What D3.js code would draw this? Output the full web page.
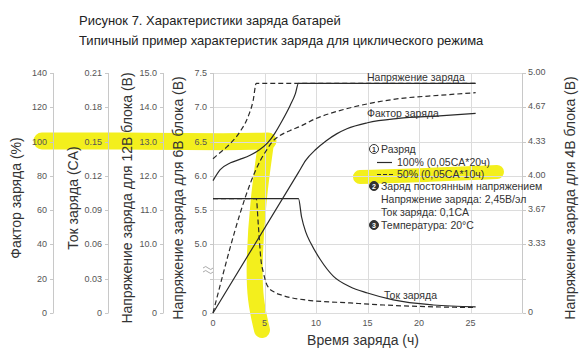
<!DOCTYPE html>
<html>
<head>
<meta charset="utf-8">
<script src="https://cdn.jsdelivr.net/npm/d3@7"></script>
<style>
  body { margin: 0; background: #fff; }
  svg { display: block; font-family: 'Liberation Sans', Arial, sans-serif; }
  .tick-label { font-size: 9px; fill: #555; }
  .axis-title { font-size: 14px; fill: #333; }
  .note { font-size: 10.5px; fill: #333; }
</style>
</head>
<body>
<script>
// chart size (matches the window)
const WIDTH = 583;
const HEIGHT = 352;

// plot area
const PLOT_LEFT = 213;
const PLOT_RIGHT = 522;
const PLOT_TOP = 73;
const PLOT_BOT = 313;

/*
 * Data.
 */

// x axis (hours)
const hourTicks = [0, 5, 10, 15, 20, 25];

// tick labels of the five y axes, one per grid level (0..7)
const factorTicks = ['0', '20', '40', '60', '80', '100', '120', '140'];
const currentTicks = ['0', '0.03', '0.06', '0.09', '0.12', '0.15', '0.18', '0.21'];
const volt12Ticks = ['0', '', '10.0', '11.0', '12.0', '13.0', '14.0', '15.0'];
const volt6Ticks = ['0', '', '5.0', '5.5', '6.0', '6.5', '7.0', '7.5'];
const volt4Ticks = ['0', '', '3.33', '3.67', '4.00', '4.33', '4.67', '5.00'];

// charge voltage, 6V block (hours, volts)
const voltFull = [[0, 5.93], [0.7, 6.09], [1.7, 6.19], [2.6, 6.24], [3.6, 6.3],
  [4.4, 6.37], [5.3, 6.48], [6, 6.62], [6.7, 6.8], [7.5, 7.03], [8, 7.2],
  [8.3, 7.35], [25.5, 7.35]];
const voltHalf = [[0, 6.25], [0.7, 6.34], [1.4, 6.43], [2.6, 6.64], [3.4, 6.86],
  [3.9, 7.1], [4.2, 7.35], [25.5, 7.35]];

// charge factor (hours, %)
const factorFull = [[0, 0], [8.3, 82], [9, 89], [10, 95.5], [11, 100.5],
  [12, 104.5], [13, 107.5], [15, 111], [18, 113.5], [22, 115], [25.5, 116.5]];
const factorHalf = [[0, 0], [4.2, 84], [4.6, 89], [5.2, 95], [5.7, 99.5],
  [6.5, 103.5], [7.5, 106.5], [8.5, 109], [10, 113.5], [11.7, 117], [15, 122],
  [18, 125], [22, 127], [25.5, 128.5]];

// charge current (hours, CA)
const currentFull = [[0, 0.1], [8.3, 0.1], [8.6, 0.084], [9, 0.071], [9.5, 0.061],
  [10.4, 0.047], [11.7, 0.032], [13.3, 0.023], [15, 0.0175], [17.5, 0.0115],
  [21.4, 0.007], [25.5, 0.0053]];
const currentHalf = [[0, 0.1], [4.2, 0.1], [4.4, 0.077], [4.65, 0.047], [4.9, 0.035],
  [5.3, 0.0235], [6, 0.018], [6.7, 0.0155], [9, 0.0114], [13.3, 0.0088],
  [16.6, 0.007], [21.4, 0.0054], [25.5, 0.0048]];

/*
 * Scales.
 */

const xScale = d3.scaleLinear().domain([0, 30]).range([PLOT_LEFT, PLOT_RIGHT]);
const levelScale = d3.scaleLinear().domain([0, 7]).range([PLOT_BOT, PLOT_TOP]);
const factorScale = d3.scaleLinear().domain([0, 140]).range([PLOT_BOT, PLOT_TOP]);
const currentScale = d3.scaleLinear().domain([0, 0.21]).range([PLOT_BOT, PLOT_TOP]);
// the 6V axis is broken below 5.0 V
const volt6Scale = d3.scaleLinear().domain([5, 7.5]).range([levelScale(2), levelScale(7)]);

const levels = d3.range(8);

const svg = d3.select('body')
  .append('svg')
    .attr('width', WIDTH)
    .attr('height', HEIGHT);

svg.append('rect')
    .attr('width', WIDTH)
    .attr('height', HEIGHT)
    .attr('fill', '#fff');

// title
svg.append('text')
    .attr('x', 79).attr('y', 25)
    .attr('font-size', 13).attr('fill', '#222')
    .text('Рисунок 7. Характеристики заряда батарей');
svg.append('text')
    .attr('x', 79).attr('y', 45)
    .attr('font-size', 13).attr('fill', '#222')
    .text('Типичный пример характеристик заряда для циклического режима');

/*
 * Yellow marker strokes (drawn underneath everything else).
 */

const marker = svg.append('g')
    .attr('fill', 'none')
    .attr('stroke', '#f3ef1d')
    .attr('stroke-linecap', 'round')
    .attr('stroke-linejoin', 'round');

const markerLine = d3.line().curve(d3.curveBasis);

marker.append('path')
    .attr('stroke-width', 17)
    .attr('d', markerLine([[42, 141], [150, 141], [230, 142], [268, 141]]));
marker.append('path')
    .attr('stroke-width', 16)
    .attr('d', markerLine([[266, 143], [258, 200], [254, 262], [255, 300], [262, 330]]));
marker.append('path')
    .attr('stroke-width', 14)
    .attr('d', markerLine([[360, 177], [430, 175], [497, 172]]));

/*
 * Grid.
 */

const grid = svg.append('g')
    .attr('stroke', '#dcdcdc')
    .attr('stroke-width', 1);

grid.selectAll('.hgrid')
  .data(levels)
  .enter()
  .append('line')
    .attr('x1', PLOT_LEFT).attr('x2', PLOT_RIGHT)
    .attr('y1', d => Math.round(levelScale(d)) + 0.5)
    .attr('y2', d => Math.round(levelScale(d)) + 0.5);

grid.selectAll('.vgrid')
  .data([5, 10, 15, 20, 25, 30])
  .enter()
  .append('line')
    .attr('x1', d => Math.round(xScale(d)) + 0.5)
    .attr('x2', d => Math.round(xScale(d)) + 0.5)
    .attr('y1', PLOT_TOP).attr('y2', PLOT_BOT);

/*
 * Y axes: an axis line, tick marks and labels at each grid level.
 */

const addLevelAxis = (x, labels, right) => {
  const g = svg.append('g');
  g.append('line')
      .attr('x1', x + 0.5).attr('x2', x + 0.5)
      .attr('y1', PLOT_TOP).attr('y2', PLOT_BOT)
      .attr('stroke', '#c8c8c8');
  g.selectAll('line.tk')
    .data(levels)
    .enter()
    .append('line')
      .attr('class', 'tk')
      .attr('x1', x + 0.5).attr('x2', right ? x + 4 : x - 3)
      .attr('y1', d => Math.round(levelScale(d)) + 0.5)
      .attr('y2', d => Math.round(levelScale(d)) + 0.5)
      .attr('stroke', '#c8c8c8');
  g.selectAll('text')
    .data(levels)
    .enter()
    .append('text')
      .attr('class', 'tick-label')
      .attr('x', right ? x + 6 : x - 6)
      .attr('y', d => levelScale(d) + (right ? 2 : 3))
      .attr('text-anchor', right ? 'start' : 'end')
      .text(d => labels[d]);
};

addLevelAxis(53, factorTicks, false);
addLevelAxis(108, currentTicks, false);
addLevelAxis(163, volt12Ticks, false);
addLevelAxis(PLOT_LEFT, volt6Ticks, false);
addLevelAxis(PLOT_RIGHT, volt4Ticks, true);

// break mark on the 6V axis
svg.append('g')
    .attr('fill', 'none')
    .attr('stroke', '#aaa')
    .selectAll('path')
    .data([0, 4])
    .enter()
    .append('path')
      .attr('d', d => `M203,${268 + d} q3,-3 5,0 q3,3 5,0`);

// rotated axis titles
const axisTitles = [
  [16, 'Фактор заряда (%)'],
  [73, 'Ток заряда (CA)'],
  [127, 'Напряжение заряда для 12В блока (В)'],
  [178, 'Напряжение заряда для 6В блока (В)'],
  [570, 'Напряжение заряда для 4В блока (В)']
];

svg.selectAll('.axis-title')
  .data(axisTitles)
  .enter()
  .append('text')
    .attr('class', 'axis-title')
    .attr('text-anchor', 'middle')
    .attr('transform', d => `translate(${d[0] + 5}, 198) rotate(-90)`)
    .text(d => d[1]);

// x axis labels
svg.selectAll('.xlabel')
  .data(hourTicks)
  .enter()
  .append('text')
    .attr('class', 'tick-label')
    .attr('x', d => xScale(d))
    .attr('y', 326)
    .attr('text-anchor', 'middle')
    .text(d => d);

svg.append('text')
    .attr('class', 'axis-title')
    .attr('x', 363).attr('y', 345)
    .attr('text-anchor', 'middle')
    .text('Время заряда (ч)');

/*
 * Curves.
 */

const curves = [
  [voltHalf, volt6Scale, true],
  [factorHalf, factorScale, true],
  [currentHalf, currentScale, true],
  [voltFull, volt6Scale, false],
  [factorFull, factorScale, false],
  [currentFull, currentScale, false]
];

curves.forEach(([data, yScale, dashed]) => {
  const line = d3.line()
      .x(d => xScale(d[0]))
      .y(d => yScale(d[1]))
      .curve(d3.curveMonotoneX);
  svg.append('path')
      .attr('d', line(data))
      .attr('fill', 'none')
      .attr('stroke', '#2a2a2a')
      .attr('stroke-width', 1.2)
      .attr('stroke-dasharray', dashed ? '5,3' : null);
});

/*
 * Annotations and legend.
 */

svg.append('text').attr('class', 'note')
    .attr('x', 367).attr('y', 81)
    .text('Напряжение заряда');
svg.append('text').attr('class', 'note')
    .attr('x', 367).attr('y', 117)
    .text('Фактор заряда');
svg.append('text').attr('class', 'note')
    .attr('x', 384).attr('y', 299)
    .text('Ток заряда');

// circled numbers
const badges = [[374, 149, '1', false], [374, 186, '2', true], [374, 225, '3', true]];
badges.forEach(([cx, cy, n, filled]) => {
  svg.append('circle')
      .attr('cx', cx).attr('cy', cy).attr('r', 4.5)
      .attr('fill', filled ? '#333' : '#fff')
      .attr('stroke', '#333');
  svg.append('text')
      .attr('x', cx).attr('y', cy + 2.6)
      .attr('text-anchor', 'middle')
      .attr('font-size', 7).attr('font-weight', 'bold')
      .attr('fill', filled ? '#fff' : '#333')
      .text(n);
});

const notes = [
  [381, 153, 'Разряд'],
  [397, 166, '100% (0,05CA*20ч)'],
  [397, 178, '50% (0,05CA*10ч)'],
  [381, 190, 'Заряд постоянным напряжением'],
  [381, 203, 'Напряжение заряда: 2,45В/эл'],
  [381, 216, 'Ток заряда: 0,1CA'],
  [381, 229, 'Температура: 20°C']
];

svg.selectAll('.notes')
  .data(notes)
  .enter()
  .append('text')
    .attr('class', 'note')
    .attr('x', d => d[0]).attr('y', d => d[1])
    .text(d => d[2]);

svg.append('line')
    .attr('x1', 377).attr('x2', 392)
    .attr('y1', 162.5).attr('y2', 162.5)
    .attr('stroke', '#2a2a2a').attr('stroke-width', 1.2);
svg.append('line')
    .attr('x1', 377).attr('x2', 394)
    .attr('y1', 174.5).attr('y2', 174.5)
    .attr('stroke', '#2a2a2a').attr('stroke-width', 1.2)
    .attr('stroke-dasharray', '4,2');
</script>
</body>
</html>
